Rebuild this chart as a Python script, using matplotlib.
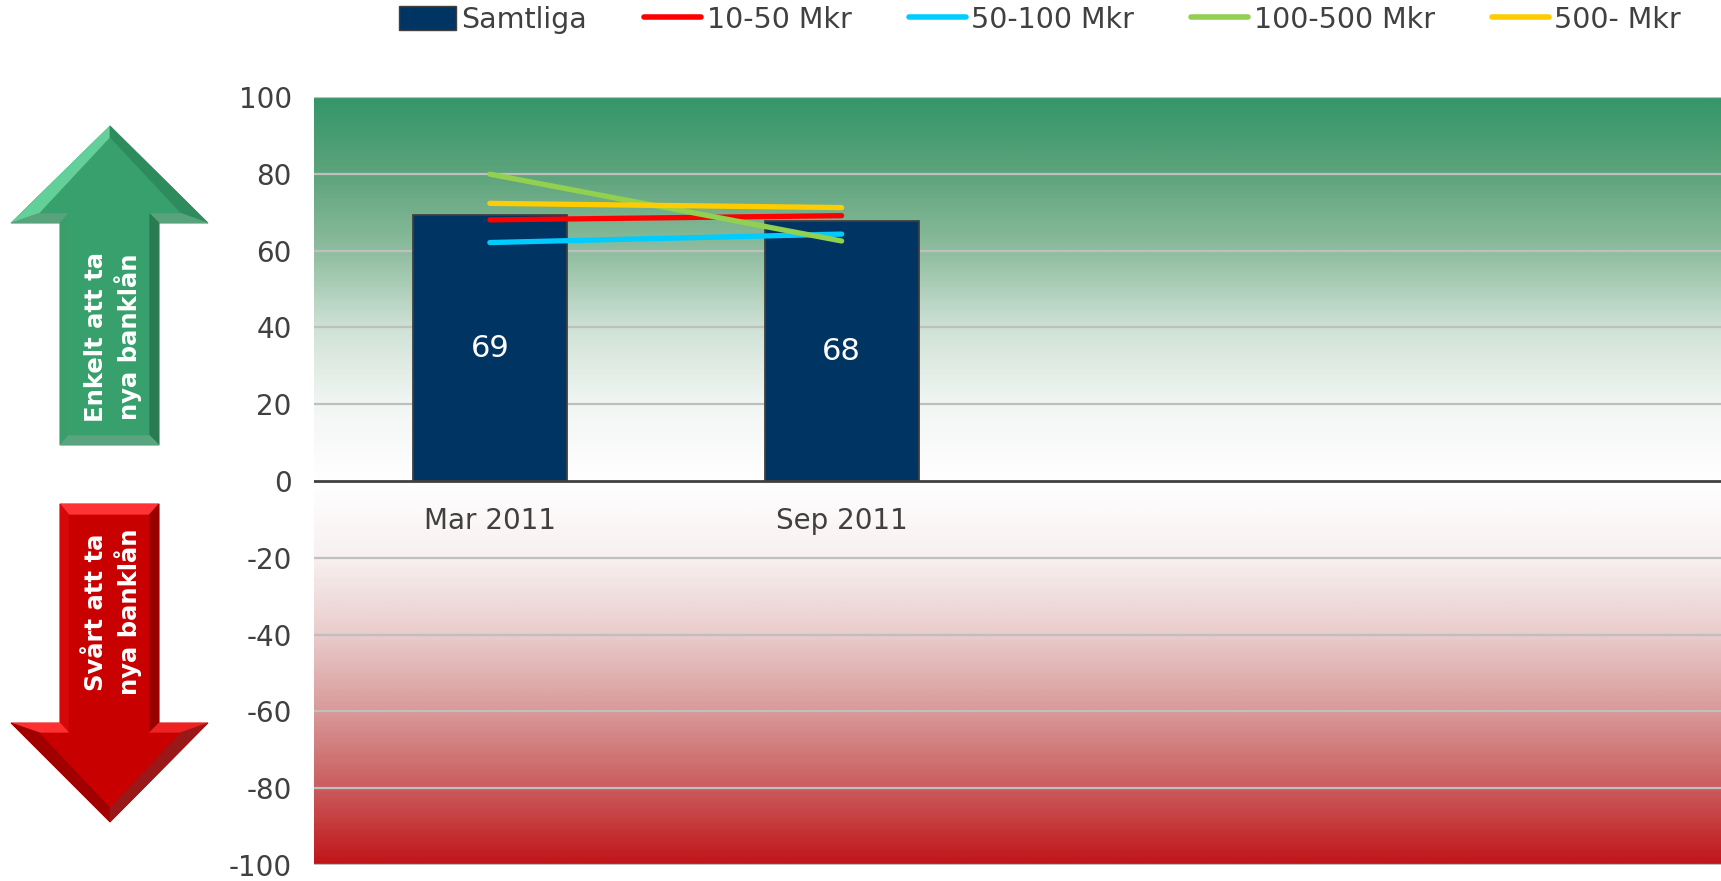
import matplotlib
matplotlib.use("Agg")
import matplotlib.pyplot as plt
import numpy as np
from matplotlib.colors import LinearSegmentedColormap
from matplotlib.patches import Polygon, Patch
from matplotlib.lines import Line2D

plt.rcParams["axes.unicode_minus"] = False

# Data
categories = ["Mar 2011", "Sep 2011", "", ""]
samtliga = [69.2, 67.7]
bar_labels = ["69", "68"]
series_names = ["10-50 Mkr", "50-100 Mkr", "100-500 Mkr", "500- Mkr"]
series_values = [
    [68.0, 69.1],
    [62.1, 64.3],
    [79.9, 62.5],
    [72.3, 71.2],
]
series_colors = ["#ff0000", "#00ccff", "#92d050", "#ffcc00"]
y_ticks = list(range(-100, 101, 20))

W, H = 1721, 881
fig = plt.figure(figsize=(W / 100, H / 100), dpi=100)
fig.patch.set_facecolor("white")

# Main axes
ax = fig.add_axes([314 / W, 1 - 865 / H, 1407 / W, 768 / H])
ax.set_xlim(-0.5, len(categories) - 0.5)
ax.set_ylim(-100, 100)

# Background gradient green -> white -> red
bg = LinearSegmentedColormap.from_list("bg", [
    (0.00, "#c0161a"), (0.10, "#cb5d5e"), (0.20, "#d99a9a"), (0.30, "#eacccc"),
    (0.40, "#f8f0f0"), (0.50, "#ffffff"), (0.60, "#f2f6f3"), (0.70, "#cfe2d6"),
    (0.80, "#8fbd9f"), (0.90, "#5ea47c"), (1.00, "#35966a"),
])
grad = np.linspace(0, 1, 400).reshape(-1, 1)
ax.imshow(grad, cmap=bg, origin="lower", aspect="auto",
          extent=[-0.5, len(categories) - 0.5, -100, 100], zorder=0)

for t in y_ticks:
    if t != 0:
        ax.axhline(t, color="#bfbfbf", lw=1.6, zorder=1)

x = np.arange(len(samtliga))
bars = ax.bar(x, samtliga, width=0.438, color="#003462", edgecolor="#404040",
              lw=1.3, zorder=2)
for b, lab in zip(bars, bar_labels):
    ax.text(b.get_x() + b.get_width() / 2, b.get_height() / 2, lab,
            ha="center", va="center", color="white", fontsize=22, zorder=5)

for name, vals, col in zip(series_names, series_values, series_colors):
    ax.plot(x, vals, color=col, lw=3.8, solid_capstyle="round", zorder=4)

ax.axhline(0, color="#404040", lw=2, zorder=3)

for s in ["top", "right", "left"]:
    ax.spines[s].set_visible(False)
# category axis crosses at zero, so labels sit just below the zero line
ax.spines["bottom"].set_position(("data", 0))
ax.spines["bottom"].set_visible(False)
ax.set_xticks(range(len(categories)))
ax.set_xticklabels(categories)
ax.set_yticks(y_ticks)
ax.tick_params(axis="x", length=0, pad=19, labelsize=20, labelcolor="#404040")
ax.tick_params(axis="y", length=0, pad=16, labelsize=20, labelcolor="#404040")

# Legend
handles = [Patch(facecolor="#003462", edgecolor="#404040", label="Samtliga")]
for name, col in zip(series_names, series_colors):
    handles.append(Line2D([0], [0], color=col, lw=4, solid_capstyle="round", label=name))
fig.legend(handles=handles, loc="center", bbox_to_anchor=(1040 / W, 1 - 20 / H),
           ncol=5, frameon=False, fontsize=20.5, handlelength=2.0, handleheight=0.9,
           handletextpad=0.2, columnspacing=2.0, labelcolor="#404040")

# Decorative arrows drawn in pixel space
ov = fig.add_axes([0, 0, 1, 1], zorder=10)
ov.set_xlim(0, W)
ov.set_ylim(H, 0)
ov.axis("off")


def poly(pts, col):
    ov.add_patch(Polygon(pts, closed=True, facecolor=col, edgecolor=col, lw=0.5))


# Green up arrow
poly([(110, 126), (208, 223), (159, 223), (159, 445), (60, 445), (60, 223), (11, 223)], "#3aa36e")
poly([(110, 126), (11, 223), (40, 213), (110, 138)], "#62d098")
poly([(110, 126), (208, 223), (180, 213), (110, 138)], "#2e8c5c")
poly([(11, 223), (60, 223), (69, 213), (40, 213)], "#58a37c")
poly([(208, 223), (159, 223), (149, 213), (180, 213)], "#58a37c")
poly([(60, 223), (69, 213), (69, 435), (60, 445)], "#3a9e6a")
poly([(159, 223), (149, 213), (149, 435), (159, 445)], "#2a7a52")
poly([(60, 445), (69, 435), (149, 435), (159, 445)], "#5aa57f")
poly([(110, 138), (180, 213), (149, 213), (149, 435), (69, 435), (69, 213), (40, 213)], "#37a06c")

# Red down arrow
poly([(60, 504), (159, 504), (159, 723), (208, 723), (110, 822), (11, 723), (60, 723)], "#cc0000")
poly([(60, 504), (159, 504), (149, 515), (69, 515)], "#ff3333")
poly([(60, 504), (69, 515), (69, 733), (60, 723)], "#d80808")
poly([(159, 504), (149, 515), (149, 733), (159, 723)], "#990000")
poly([(11, 723), (60, 723), (69, 733), (40, 733)], "#ff3030")
poly([(208, 723), (159, 723), (149, 733), (180, 733)], "#ee2222")
poly([(11, 723), (40, 733), (110, 807), (110, 822)], "#a00000")
poly([(208, 723), (180, 733), (110, 807), (110, 822)], "#9a1818")
poly([(69, 515), (149, 515), (149, 733), (180, 733), (110, 807), (40, 733), (69, 733)], "#c80000")

ov.text(113, 337, "Enkelt att ta\nnya banklån", rotation=90, ha="center", va="center",
        color="white", fontsize=17.5, fontweight="bold", linespacing=1.3)
ov.text(113, 612, "Svårt att ta\nnya banklån", rotation=90, ha="center", va="center",
        color="white", fontsize=17.5, fontweight="bold", linespacing=1.3)

fig.savefig("out.png", dpi=100, facecolor="white")
